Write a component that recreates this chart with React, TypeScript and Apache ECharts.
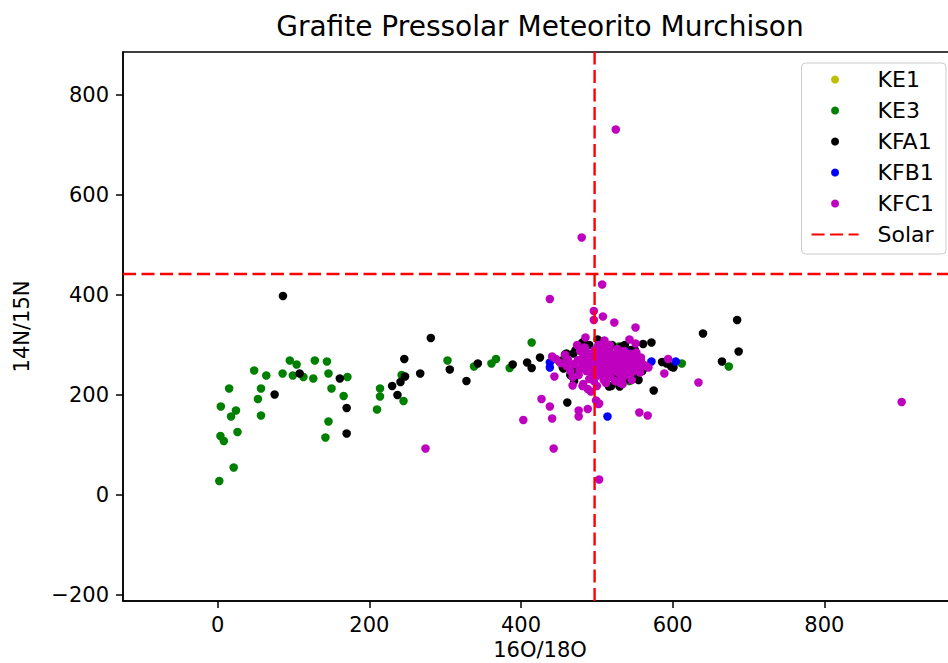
import React, { useEffect, useRef } from "react";
import * as echarts from "echarts";

// 16O/18O (x) vs 14N/15N (y)
const KE1: number[][] = [];

const KE3: number[][] = [
  [2, 28], [21, 55], [3.5, 118], [8, 108], [26, 126], [4, 177], [15, 213], [24, 169], [17.5, 157],
  [48, 249], [64, 239], [57, 213], [53, 192], [57, 159], [85.5, 243], [95, 269], [104, 261], [99, 239],
  [113, 236], [126, 233], [128, 269], [144, 267], [146, 243], [150, 213], [166, 198], [171, 236],
  [146, 147], [142, 115], [210, 171], [214, 213], [214, 197], [245, 188], [242.5, 240], [303, 269],
  [338, 257], [361, 263], [367, 272], [385, 254], [414, 305], [529, 297], [543, 228], [612, 263],
  [674, 257], [502, 297], [455, 270],
];

const KFA1: number[][] = [
  [86, 398], [75, 201], [108, 243], [161, 233], [170, 174], [170, 123], [230, 218], [237, 200],
  [241, 226], [247, 237], [246, 272], [267, 243], [281, 314], [306, 251], [328, 228], [343, 263],
  [389, 261], [408, 265], [414, 254], [425, 275], [461, 185], [575, 209], [572, 305], [561, 302],
  [685, 350], [640, 323], [687, 287], [665, 267], [586, 266], [598, 257], [519, 218], [533, 297],
  [481, 305], [501, 311], [458, 281], [456, 253], [468, 249], [516, 217], [537, 300], [550, 290],
  [530, 217], [455, 255], [471, 250], [460, 283], [469, 283], [483, 306], [547, 260], [557, 270],
  [592, 263], [601, 255], [472, 290], [490, 300], [508, 303], [520, 300], [545, 290], [552, 280],
  [560, 248], [548, 240], [540, 232], [465, 240], [470, 228], [450, 268], [555, 230], [526, 236],
];

const KFB1: number[][] = [
  [438, 265], [438, 255], [514, 157], [572, 267], [604, 267], [522, 270], [530, 262], [536, 275],
  [542, 258], [548, 266], [528, 252], [518, 282], [540, 285], [555, 262],
];

const KFC1: number[][] = [
  [525, 731], [480, 515], [507, 421], [438, 392], [496, 368], [508, 357], [496, 350], [523, 345],
  [551, 335], [485, 315], [510, 309], [543, 311], [551, 303], [441, 277], [444, 237], [558, 275],
  [565, 258], [594, 272], [589, 243], [468, 219], [481, 218], [534, 222], [492, 207], [499, 189],
  [427, 192], [438, 177], [441, 153], [403, 150], [476, 169], [488, 172], [502, 182], [476, 157],
  [556, 165], [567, 159], [274, 93], [443, 93], [503, 31], [634, 225], [902, 186], [503, 183],
  [470, 262], [475, 270], [480, 255], [482, 275], [486, 248], [488, 265], [490, 282], [492, 258],
  [494, 240], [495, 270], [497, 290], [498, 252], [500, 262], [502, 275], [503, 245], [505, 285],
  [506, 258], [508, 268], [510, 250], [511, 278], [513, 262], [515, 240], [516, 290], [518, 270],
  [520, 255], [522, 265], [524, 280], [526, 248], [528, 262], [530, 272], [532, 255], [534, 266],
  [536, 258], [538, 278], [540, 262], [542, 250], [545, 268], [548, 258], [550, 272], [553, 262],
  [556, 255], [460, 258], [462, 270], [465, 248], [458, 280], [478, 288], [484, 295], [490, 232],
  [496, 228], [502, 300], [510, 296], [518, 236], [524, 228], [530, 242], [536, 288], [544, 282],
  [476, 240], [468, 236], [474, 300], [482, 222], [488, 212], [500, 218], [512, 224], [530, 225],
  [452, 264], [446, 272], [544, 240], [558, 268], [562, 260], [568, 255],
  [484, 262], [489, 272], [493, 250], [499, 280], [504, 268], [507, 238], [512, 286], [514, 256],
  [519, 246], [521, 276], [525, 258], [527, 270], [531, 284], [533, 246], [537, 268], [539, 252],
  [541, 276], [546, 262], [549, 248], [552, 285], [486, 286], [480, 266], [477, 250], [498, 236],
  [509, 230], [517, 300], [527, 292], [535, 236], [546, 230], [557, 245],
];

const SOLAR_O = 497;
const SOLAR_N = 442;

const X_MIN = -125;
const X_MAX = 975;
const Y_MIN = -212;
const Y_MAX = 886;
const X_TICKS = [0, 200, 400, 600, 800];
const Y_TICKS = [-200, 0, 200, 400, 600, 800];

const SERIES_NAMES = ["KE1", "KE3", "KFA1", "KFB1", "KFC1"];
const SERIES_DATA = [KE1, KE3, KFA1, KFB1, KFC1];
const SERIES_COLORS = ["#bfbf00", "#008000", "#000000", "#0000ff", "#bf00bf"];

const FONT = "DejaVu Sans";

export default function App() {
  const ref = useRef<HTMLDivElement>(null);
  useEffect(() => {
    if (!ref.current) return;
    const chart = echarts.init(ref.current, undefined, { renderer: "svg" });
    const minus = (v: number) => String(v).replace("-", "\u2212");
    const scatter = SERIES_NAMES.map((name, i) => ({
      name,
      type: "scatter",
      data: SERIES_DATA[i],
      symbol: "circle",
      symbolSize: 8.5,
      itemStyle: { color: SERIES_COLORS[i], opacity: 1 },
      emphasis: { disabled: true },
      z: 2 + i * 0.01,
    }));
    const solarStyle = {
      color: "#ff0000",
      width: 2.4,
      type: [13, 5.5],
    };
    const solar = [
      [[SOLAR_O, Y_MIN], [SOLAR_O, Y_MAX]],
      [[X_MIN, SOLAR_N], [X_MAX, SOLAR_N]],
    ].map((d) => ({
      name: "Solar",
      type: "line",
      data: d,
      symbol: "none",
      showSymbol: false,
      lineStyle: solarStyle,
      itemStyle: { color: "#ff0000" },
      emphasis: { disabled: true },
      silent: true,
      z: 5,
    }));
    chart.setOption({
      animation: false,
      backgroundColor: "#ffffff",
      textStyle: { fontFamily: FONT },
      title: {
        text: "Grafite Pressolar Meteorito Murchison",
        left: 540,
        textAlign: "center",
        top: 12,
        padding: 0,
        textStyle: { fontFamily: FONT, fontSize: 28, fontWeight: "normal", color: "#000" },
      },
      grid: {
        left: 123,
        right: -9,
        top: 52,
        bottom: 62,
        outerBoundsMode: "none",
        containLabel: false,
        show: true,
        borderColor: "#000",
        borderWidth: 1.5,
        backgroundColor: "transparent",
      },
      legend: {
        data: [
          "KE1",
          "KE3",
          "KFA1",
          "KFB1",
          "KFC1",
          { name: "Solar", itemStyle: { opacity: 0, color: "rgba(0,0,0,0)", borderWidth: 0 } },
        ],
        orient: "vertical",
        right: 2,
        top: 63,
        itemWidth: 47,
        itemHeight: 8,
        itemGap: 0,
        padding: [1, 12, 4, 9],
        backgroundColor: "rgba(255,255,255,0.8)",
        borderColor: "#cccccc",
        borderWidth: 1,
        borderRadius: 4,
        selectedMode: false,
        textStyle: {
          fontFamily: FONT,
          fontSize: 22,
          color: "#000",
          lineHeight: 31,
          padding: [0, 0, 0, 14],
        },
      },
      xAxis: {
        type: "value",
        min: X_MIN,
        max: X_MAX,
        name: "16O/18O",
        nameLocation: "middle",
        nameGap: 38,
        nameTextStyle: { fontFamily: FONT, fontSize: 21, color: "#000" },
        axisLine: { show: true, onZero: false, lineStyle: { color: "#000", width: 1.5 } },
        axisTick: { show: true, length: 7, customValues: X_TICKS, lineStyle: { color: "#000", width: 1.5 } },
        axisLabel: {
          customValues: X_TICKS,
          margin: 13,
          fontFamily: FONT,
          fontSize: 21,
          color: "#000",
          formatter: minus,
        },
        splitLine: { show: false },
      },
      yAxis: {
        type: "value",
        min: Y_MIN,
        max: Y_MAX,
        name: "14N/15N",
        nameLocation: "middle",
        nameGap: 91,
        nameRotate: 90,
        nameTextStyle: { fontFamily: FONT, fontSize: 21, color: "#000" },
        axisLine: { show: true, onZero: false, lineStyle: { color: "#000", width: 1.5 } },
        axisTick: { show: true, length: 7, customValues: Y_TICKS, lineStyle: { color: "#000", width: 1.5 } },
        axisLabel: {
          customValues: Y_TICKS,
          margin: 14,
          fontFamily: FONT,
          fontSize: 21,
          color: "#000",
          formatter: minus,
        },
        splitLine: { show: false },
      },
      series: [...scatter, ...solar],
    });
    return () => chart.dispose();
  }, []);
  return (
    <div
      ref={ref}
      style={{ position: "fixed", left: 0, top: 0, width: 948, height: 663 }}
    />
  );
}
